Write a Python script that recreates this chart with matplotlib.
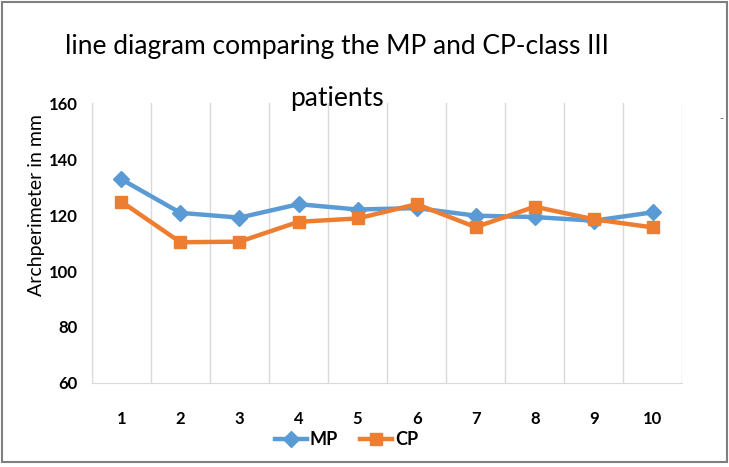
import matplotlib.pyplot as plt
from matplotlib.patches import Rectangle

# values
patients = [1, 2, 3, 4, 5, 6, 7, 8, 9, 10]
mp = [132.8, 120.8, 119.1, 123.9, 122.0, 122.5, 119.8, 119.3, 118.0, 121.0]
cp = [124.8, 110.3, 110.5, 117.6, 118.8, 123.9, 115.7, 123.0, 118.5, 115.6]
yticks = [60, 80, 100, 120, 140, 160]

plt.rcParams['font.family'] = ['Lato', 'DejaVu Sans']

blue = '#5B9BD5'
orange = '#ED7D31'
grid = '#D9D9D9'

fig = plt.figure(figsize=(7.29, 4.67), dpi=100)
ax = fig.add_axes([0.126, 0.18, 0.81, 0.599])

ax.plot(patients, mp, color=blue, lw=3.2, marker='D', ms=8, label='MP', zorder=3)
ax.plot(patients, cp, color=orange, lw=3.2, marker='s', ms=9, label='CP', zorder=4)

ax.set_xlim(0.5, 10.5)
ax.set_ylim(60, 160)
ax.set_yticks(yticks)
ax.set_xticks(patients)
ax.tick_params(axis='both', length=0, labelsize=12)
ax.tick_params(axis='x', pad=20)
ax.tick_params(axis='y', pad=10)
for lab in ax.get_xticklabels() + ax.get_yticklabels():
    lab.set_fontweight('bold')

# vertical gridlines between categories
for b in range(11):
    ax.axvline(b + 0.5, color=grid, lw=1, zorder=1)
for s in ['top', 'right']:
    ax.spines[s].set_visible(False)
for s in ['left', 'bottom']:
    ax.spines[s].set_color(grid)

fig.text(0.05, 0.56, 'Archperimeter in mm', rotation=90, ha='center', va='center', fontsize=14)

fig.text(0.462, 0.9, 'line diagram comparing the MP and CP-class III', ha='center', va='center', fontsize=19)
fig.text(0.462, 0.79, 'patients', ha='center', va='center', fontsize=19)
fig.text(0.99, 0.745, '-', ha='center', va='center', fontsize=8, color='#555555')

leg = ax.legend(loc='center', bbox_to_anchor=(0.475, 0.058), bbox_transform=fig.transFigure,
                ncol=2, frameon=False, fontsize=13, handlelength=1.8, columnspacing=1.2,
                handletextpad=0.15)
for t in leg.get_texts():
    t.set_fontweight('bold')

fig.patches.append(Rectangle((0.003, 0.01), 0.994, 0.985, transform=fig.transFigure,
                             fill=False, edgecolor='#7F7F7F', lw=1.5))

fig.savefig('out.png', dpi=100)
